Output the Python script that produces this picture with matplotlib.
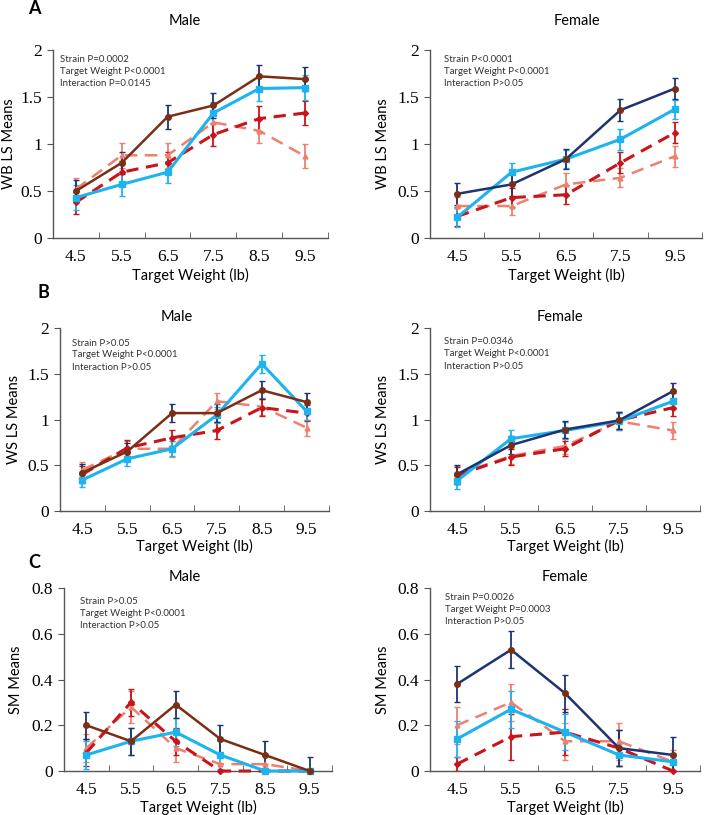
import matplotlib
matplotlib.use("Agg")
import matplotlib.pyplot as plt
from matplotlib.ticker import FixedLocator, NullFormatter

W, H = 704, 815
DPI = 100

male_x = ["4.5", "5.5", "6.5", "7.5", "8.5", "9.5"]
female_x = ["4.5", "5.5", "6.5", "7.5", "9.5"]

# ---------- Panel A : WB LS Means ----------
A_m_brown = [0.50, 0.80, 1.29, 1.41, 1.72, 1.69]
A_m_brown_err = [0.12, 0.12, 0.13, 0.13, 0.12, 0.13]
A_m_blue = [0.43, 0.57, 0.70, 1.33, 1.59, 1.60]
A_m_blue_err = [0.13, 0.12, 0.12, 0.12, 0.13, 0.13]
A_m_red = [0.38, 0.70, 0.80, 1.10, 1.27, 1.33]
A_m_red_err = [0.12, 0.12, 0.12, 0.12, 0.13, 0.13]
A_m_salmon = [0.52, 0.88, 0.88, 1.23, 1.14, 0.87]
A_m_salmon_err = [0.12, 0.13, 0.13, 0.13, 0.13, 0.13]

A_f_navy = [0.47, 0.57, 0.84, 1.36, 1.59]
A_f_navy_err = [0.12, 0.12, 0.11, 0.12, 0.11]
A_f_blue = [0.22, 0.70, 0.84, 1.05, 1.37]
A_f_blue_err = [0.10, 0.10, 0.10, 0.11, 0.10]
A_f_red = [0.23, 0.43, 0.46, 0.80, 1.12]
A_f_red_err = [0.10, 0.10, 0.10, 0.11, 0.11]
A_f_salmon = [0.34, 0.34, 0.57, 0.64, 0.87]
A_f_salmon_err = [0.10, 0.10, 0.12, 0.10, 0.11]

# ---------- Panel B : WS LS Means ----------
B_m_brown = [0.42, 0.65, 1.07, 1.07, 1.32, 1.19]
B_m_brown_err = [0.09, 0.09, 0.10, 0.10, 0.10, 0.10]
B_m_blue = [0.34, 0.57, 0.68, 1.05, 1.61, 1.09]
B_m_blue_err = [0.08, 0.08, 0.08, 0.09, 0.10, 0.09]
B_m_red = [0.40, 0.69, 0.80, 0.88, 1.13, 1.07]
B_m_red_err = [0.09, 0.09, 0.09, 0.09, 0.09, 0.09]
B_m_salmon = [0.45, 0.68, 0.68, 1.20, 1.14, 0.91]
B_m_salmon_err = [0.09, 0.09, 0.09, 0.09, 0.09, 0.09]

B_f_navy = [0.40, 0.72, 0.89, 0.99, 1.31]
B_f_navy_err = [0.10, 0.10, 0.09, 0.09, 0.09]
B_f_blue = [0.33, 0.79, 0.88, 0.98, 1.20]
B_f_blue_err = [0.09, 0.09, 0.09, 0.09, 0.09]
B_f_red = [0.39, 0.59, 0.68, 0.99, 1.13]
B_f_red_err = [0.09, 0.09, 0.08, 0.09, 0.09]
B_f_salmon = [0.40, 0.60, 0.71, 0.98, 0.88]
B_f_salmon_err = [0.09, 0.09, 0.09, 0.09, 0.09]

# ---------- Panel C : SM Means ----------
C_m_brown = [0.20, 0.13, 0.29, 0.14, 0.07, 0.00]
C_m_brown_err = [0.06, 0.06, 0.06, 0.06, 0.06, 0.06]
C_m_blue = [0.07, 0.13, 0.17, 0.07, 0.00, 0.00]
C_m_blue_err = [0.06, 0.06, 0.06, 0.06, 0.00, 0.00]
C_m_red = [0.08, 0.30, 0.13, 0.00, 0.00, 0.00]
C_m_red_err = [0.06, 0.06, 0.06, 0.00, 0.00, 0.00]
C_m_salmon = [0.10, 0.28, 0.10, 0.03, 0.03, 0.00]
C_m_salmon_err = [0.06, 0.07, 0.06, 0.00, 0.00, 0.00]

C_f_navy = [0.38, 0.53, 0.34, 0.10, 0.07]
C_f_navy_err = [0.08, 0.08, 0.08, 0.08, 0.08]
C_f_blue = [0.14, 0.27, 0.17, 0.07, 0.04]
C_f_blue_err = [0.08, 0.08, 0.08, 0.05, 0.04]
C_f_red = [0.03, 0.15, 0.17, 0.10, 0.00]
C_f_red_err = [0.03, 0.10, 0.10, 0.08, 0.00]
C_f_salmon = [0.20, 0.30, 0.13, 0.13, 0.04]
C_f_salmon_err = [0.08, 0.08, 0.08, 0.08, 0.05]

annot = {
    "Am": ["Strain P=0.0002", "Target Weight P<0.0001", "Interaction P=0.0145"],
    "Af": ["Strain P<0.0001", "Target Weight P<0.0001", "Interaction P>0.05"],
    "Bm": ["Strain P>0.05", "Target Weight P<0.0001", "Interaction P>0.05"],
    "Bf": ["Strain P=0.0346", "Target Weight P<0.0001", "Interaction P>0.05"],
    "Cm": ["Strain P>0.05", "Target Weight P<0.0001", "Interaction P>0.05"],
    "Cf": ["Strain P=0.0026", "Target Weight P=0.0003", "Interaction P>0.05"],
}

BROWN = "#7B2E14"
NAVY = "#1E3370"
BLUE = "#1DB3EE"
RED = "#C8141A"
SALMON = "#EE8070"

SANS = "Lato"
SERIF = "Liberation Serif"

plt.rcParams["font.family"] = [SERIF, "DejaVu Serif"]

fig = plt.figure(figsize=(W / DPI, H / DPI), dpi=DPI)


def px_axes(l, r, t, b):
    return fig.add_axes([l / W, 1 - b / H, (r - l) / W, (b - t) / H])


def ftext(x, y, s, **kw):
    fig.text(x / W, 1 - y / H, s, **kw)


def draw(ax, cats, series, ymax, ystep, ylabel, first_color, first_marker_color, first_err_color):
    n = len(cats)
    xs = list(range(n))
    styles = [
        (series[3], series[7], SALMON, (0, (5, 3)), 1.8, "^", 3.5, SALMON, SALMON),
        (series[2], series[6], RED, (0, (4, 2.5)), 2.2, "D", 3, RED, RED),
        (series[1], series[5], BLUE, "-", 2.2, "s", 4, BLUE, BLUE),
        (series[0], series[4], first_color, "-", 1.8, "o", 4, first_marker_color, first_err_color),
    ]
    for vals, err, c, ls, lw, mk, ms, mc, ec in styles:
        ax.errorbar(xs, vals, yerr=err, fmt="none", ecolor=ec, elinewidth=1.3,
                    capsize=2, capthick=1.0, zorder=2)
        ax.plot(xs, vals, color=c, ls=ls, lw=lw, marker=mk, ms=ms, mfc=mc, mec=mc,
                zorder=3, clip_on=False)
    ax.set_xlim(-0.5, n - 0.5)
    ax.set_ylim(0, ymax)
    for s in ["top", "right"]:
        ax.spines[s].set_visible(False)
    for s in ["left", "bottom"]:
        ax.spines[s].set_color("#555555")
        ax.spines[s].set_linewidth(1.0)
    ax.set_xticks(xs)
    ax.set_xticklabels(cats)
    ax.tick_params(axis="x", which="major", length=0, pad=8, labelsize=12.5)
    ax.xaxis.set_minor_locator(FixedLocator([i + 0.5 for i in range(n)]))
    ax.xaxis.set_minor_formatter(NullFormatter())
    ax.tick_params(axis="x", which="minor", direction="in", length=4, color="#555555")
    yt = []
    v = 0.0
    while v <= ymax + 1e-9:
        yt.append(round(v, 2))
        v += ystep
    ax.set_yticks(yt)
    ax.set_yticklabels([("%g" % t) for t in yt])
    ax.tick_params(axis="y", direction="out", length=4, color="#555555", pad=4, labelsize=12.5)
    ax.set_ylabel(ylabel, fontfamily=SANS, fontsize=10.5)


panels = [
    ("Am", 53, 328, 50, 238, male_x,
     [A_m_brown, A_m_blue, A_m_red, A_m_salmon, A_m_brown_err, A_m_blue_err, A_m_red_err, A_m_salmon_err],
     2, 0.5, "WB LS Means", True),
    ("Af", 430, 702, 50, 238, female_x,
     [A_f_navy, A_f_blue, A_f_red, A_f_salmon, A_f_navy_err, A_f_blue_err, A_f_red_err, A_f_salmon_err],
     2, 0.5, "WB LS Means", False),
    ("Bm", 60, 329, 328, 511, male_x,
     [B_m_brown, B_m_blue, B_m_red, B_m_salmon, B_m_brown_err, B_m_blue_err, B_m_red_err, B_m_salmon_err],
     2, 0.5, "WS LS Means", True),
    ("Bf", 430, 700, 328, 511, female_x,
     [B_f_navy, B_f_blue, B_f_red, B_f_salmon, B_f_navy_err, B_f_blue_err, B_f_red_err, B_f_salmon_err],
     2, 0.5, "WS LS Means", False),
    ("Cm", 64, 332, 588, 771, male_x,
     [C_m_brown, C_m_blue, C_m_red, C_m_salmon, C_m_brown_err, C_m_blue_err, C_m_red_err, C_m_salmon_err],
     0.8, 0.2, "SM Means", True),
    ("Cf", 430, 700, 588, 771, female_x,
     [C_f_navy, C_f_blue, C_f_red, C_f_salmon, C_f_navy_err, C_f_blue_err, C_f_red_err, C_f_salmon_err],
     0.8, 0.2, "SM Means", False),
]

title_pos = {"Am": (185, 21), "Af": (577, 21), "Bm": (177, 317), "Bf": (560, 317),
             "Cm": (185, 577), "Cf": (565, 577)}
annot_pos = {"Am": (60, 60), "Af": (444, 60), "Bm": (72, 343), "Bf": (444, 342),
             "Cm": (80, 602), "Cf": (445, 597)}
xlabel_y = {"Am": 275, "Af": 275, "Bm": 546, "Bf": 546, "Cm": 807, "Cf": 807}
ylabel_x = {"Am": 9, "Af": 383, "Bm": 14, "Bf": 383, "Cm": 16, "Cf": 383}

for key, l, r, t, b, cats, series, ymax, ystep, ylabel, is_male in panels:
    ax = px_axes(l, r, t, b)
    if is_male:
        draw(ax, cats, series, ymax, ystep, ylabel, BROWN, BROWN, NAVY)
    else:
        draw(ax, cats, series, ymax, ystep, ylabel, NAVY, BROWN, NAVY)
    ax.yaxis.set_label_coords((ylabel_x[key] - l) / (r - l), 0.5)
    ax.yaxis.label.set_verticalalignment("center")
    tx, ty = title_pos[key]
    ftext(tx, ty, "Male" if is_male else "Female", fontfamily=SANS, fontsize=10.5,
          ha="center", va="center")
    ftext((l + r) / 2, xlabel_y[key], "Target Weight (lb)", fontfamily=SANS, fontsize=10.5,
          ha="center", va="center")
    axx, ayy = annot_pos[key]
    for i, line in enumerate(annot[key]):
        ftext(axx, ayy + 12 * i, line, fontfamily=SANS, fontsize=7, ha="left", va="center",
              color="#333333")

ftext(34, 9, "A", fontfamily=SANS, fontsize=13, fontweight="bold", ha="center", va="center")
ftext(43, 293, "B", fontfamily=SANS, fontsize=13, fontweight="bold", ha="center", va="center")
ftext(34, 562, "C", fontfamily=SANS, fontsize=13, fontweight="bold", ha="center", va="center")

fig.savefig("out.png", dpi=DPI)
